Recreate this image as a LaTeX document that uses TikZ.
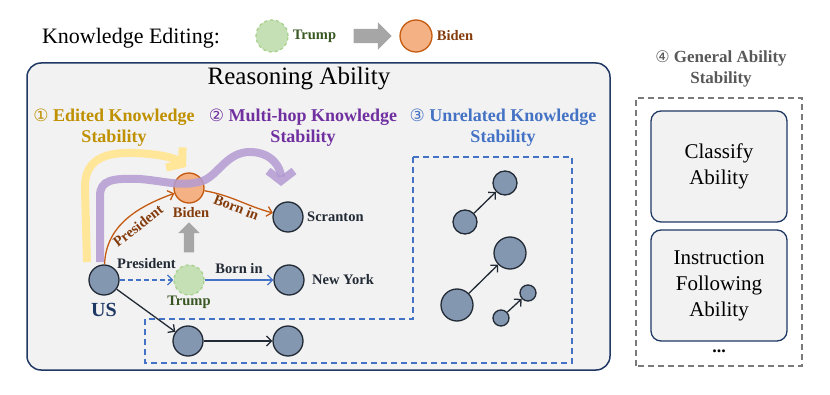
\documentclass[tikz,border=0pt]{standalone}
\usepackage{xcolor}
\usepackage{fontspec}
\setmainfont{Liberation Serif}
\newfontfamily\circfont{DejaVu Sans}
\usepackage{tikz}
\usetikzlibrary{positioning,arrows.meta,shapes.arrows}

\definecolor{entfill}{HTML}{8497B0}
\definecolor{entline}{HTML}{222A35}
\definecolor{navy}{HTML}{1F3864}
\definecolor{panel}{HTML}{F2F2F2}
\definecolor{edblue}{HTML}{4472C4}
\definecolor{edorange}{HTML}{C55A11}
\definecolor{bidenbrown}{HTML}{843C0C}
\definecolor{bidenfill}{HTML}{F4B183}
\definecolor{trumpfill}{HTML}{C5E0B4}
\definecolor{trumpline}{HTML}{A9D18E}
\definecolor{trumpgreen}{HTML}{385723}
\definecolor{gold}{HTML}{BF9000}
\definecolor{goldarrow}{HTML}{FFE699}
\definecolor{purp}{HTML}{7030A0}
\definecolor{purparrow}{HTML}{B39BD3}
\definecolor{graytxt}{HTML}{595959}
\definecolor{arrgray}{HTML}{A6A6A6}

\newcommand{\fs}[2]{\fontsize{#1}{#2}\selectfont}

\begin{document}
\begin{tikzpicture}[x=1pt, y=1pt, >={Straight Barb[length=5pt,width=10pt]},
  ent/.style={circle, draw=entline, fill=entfill, line width=1.3pt, minimum size=30pt, inner sep=0pt},
  trumpnode/.style={circle, draw=trumpline, fill=trumpfill, dashed, line width=1.3pt, minimum size=30pt, inner sep=0pt},
  bidennode/.style={circle, draw=edorange, fill=bidenfill, line width=1.3pt, minimum size=30pt, inner sep=0pt},
  lbl/.style={font=\fs{14.5pt}{17pt}\bfseries, inner sep=1pt, text=entline},
  head/.style={font=\fs{18pt}{21pt}\bfseries, align=center},
  abox/.style={draw=navy, fill=panel, line width=1.3pt, rounded corners=10pt, minimum width=136pt, minimum height=111pt, align=center, font=\fs{21pt}{26pt}},
  blockarr/.style={single arrow, fill=arrgray, draw=none, inner xsep=0pt},
  bigarrow/.style={line width=8pt, -{Straight Barb[length=10pt,width=26pt]}},
  edge/.style={->, line width=1.3pt}]
  \useasboundingbox (0,0) rectangle (830,394);

  % legend
  \node[font=\fs{22pt}{26pt}] (kedit) at (131,356) {Knowledge Editing:};
  \node[trumpnode, minimum size=32pt] (legtrump) at (272,358) {};
  \node[lbl, text=trumpgreen, right=3pt of legtrump] {Trump};
  \node[blockarr, inner ysep=7pt, minimum height=38pt, minimum width=27pt, single arrow head extend=6.5pt] (legarr) at (369,358) {};
  \node[bidennode, minimum size=32pt] (legbiden) at (416,358) {};
  \node[lbl, text=bidenbrown, right=3pt of legbiden] {Biden};

  % reasoning panel
  \node[draw=navy, fill=panel, line width=1.5pt, rounded corners=14pt, minimum width=583pt, minimum height=307pt] (reason) at (318.5,177.5) {};
  \node[font=\fs{25pt}{28pt}] at (299,315) {Reasoning Ability};
  \node[head, text=gold] (h1) at (114,266.5) {{\circfont\fs{17pt}{17pt}\mdseries ①} Edited Knowledge\\Stability};
  \node[head, text=purp] (h2) at (303,266.5) {{\circfont\fs{17pt}{17pt}\mdseries ②} Multi-hop Knowledge\\Stability};
  \node[head, text=edblue] (h3) at (503,266.5) {{\circfont\fs{17pt}{17pt}\mdseries ③} Unrelated Knowledge\\Stability};

  \draw[edblue, line width=1.3pt, dash pattern=on 6pt off 4pt] (413,237) -- (572,237) -- (572,31) -- (145,31) -- (145,75) -- (413,75) -- cycle;

  % entities
  \node[ent] (us) at (104,114) {};
  \node[trumpnode] (trump) at (189,114) {};
  \node[ent] (ny) at (289,114) {};
  \node[bidennode] (biden) at (189,206) {};
  \node[ent] (scr) at (288,177) {};
  \node[ent] (low1) at (188,53) {};
  \node[ent] (low2) at (288,53) {};

  \node[font=\fs{20pt}{22pt}\bfseries, text=navy] at (104,84) {US};
  \node[lbl, text=trumpgreen] at (189,92) {Trump};
  \node[lbl, text=bidenbrown] at (191,181) {Biden};
  \node[lbl, anchor=west] at (311,114) {New York};
  \node[lbl, anchor=west] at (306,177) {Scranton};

  \node[blockarr, rotate=90, inner ysep=5pt, minimum height=30pt, minimum width=21pt, single arrow head extend=5.5pt] (updarr) at (189,154) {};

  % unrelated pairs
  \node[ent, minimum size=24pt] (a1) at (465,172) {};
  \node[ent, minimum size=24pt] (a2) at (505,211) {};
  \node[ent, minimum size=32pt] (b1) at (457,89) {};
  \node[ent, minimum size=32pt] (b2) at (510,141) {};
  \node[ent, minimum size=16pt] (c1) at (501,76) {};
  \node[ent, minimum size=16pt] (c2) at (528,101) {};
  \draw[edge, entline] (a1) -- (a2);
  \draw[edge, entline] (b1) -- (b2);
  \draw[edge, entline] (c1) -- (c2);

  % edges
  \draw[edge, edblue, dash pattern=on 5pt off 3pt] (us) -- node[lbl, above=10pt] {President} (trump);
  \draw[edge, edblue] (trump) -- node[lbl, above=5pt] {Born in} (ny);
  \draw[edge, edorange] (us) to[out=88, in=200] (biden);
  \node[lbl, text=bidenbrown, rotate=38] (prlbl) at (138,168) {President};
  \draw[edge, edorange] (biden) to[out=-10, in=165] node[lbl, text=bidenbrown, sloped, below] {Born in} (scr);
  \draw[edge, entline] (us) -- (low1);
  \draw[edge, entline] (low1) -- (low2);

  % stability paths
  \draw[bigarrow, goldarrow] (87,132) -- (85,205) .. controls (84,235) and (105,242) .. (135,241) .. controls (160,240) and (175,236) .. (186,227);
  \draw[bigarrow, purparrow, opacity=0.85] (100,132) -- (100,198) .. controls (100,214) and (112,216) .. (140,215) .. controls (165,213) and (185,206) .. (205,214) .. controls (220,222) and (228,242) .. (250,242) .. controls (272,242) and (281,226) .. (281,208);

  % general ability
  \node[head, font=\fs{17pt}{21pt}\bfseries, text=graytxt] (h4) at (721,325) {{\circfont\fs{16pt}{17pt}\mdseries ④} General Ability\\Stability};
  \draw[graytxt!80, line width=1.3pt, dash pattern=on 6pt off 4pt] (636,28) rectangle (802,296);
  \node[abox] (cls) at (719,227.5) {Classify\\Ability};
  \node[abox] (inst) at (719,108.5) {Instruction\\Following\\Ability};
  \node[font=\fs{18pt}{20pt}\bfseries] (dots) at (719,43) {...};
\end{tikzpicture}
\end{document}
